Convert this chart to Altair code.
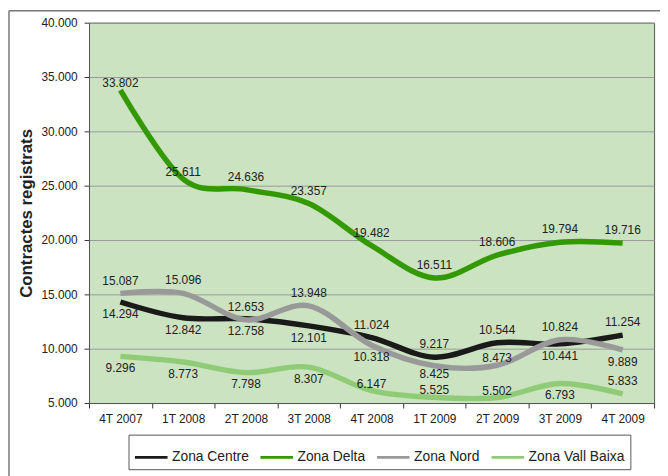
import altair as alt
import pandas as pd

periods = ["4T 2007", "1T 2008", "2T 2008", "3T 2008", "4T 2008",
           "1T 2009", "2T 2009", "3T 2009", "4T 2009"]
zones = ["Zona Centre", "Zona Delta", "Zona Nord", "Zona Vall Baixa"]

centre = [14294, 12842, 12758, 12101, 11024, 9217, 10544, 10441, 11254]
delta = [33802, 25611, 24636, 23357, 19482, 16511, 18606, 19794, 19716]
nord = [15087, 15096, 12653, 13948, 10318, 8425, 8473, 10824, 9889]
vall = [9296, 8773, 7798, 8307, 6147, 5525, 5502, 6793, 5833]

# where each value label sits relative to its point:
# a = above, b = below, n = above (close), m = below (close)
label_side = {
    "Zona Centre": "bbbbaaaba",
    "Zona Delta": "nnaaaaaaa",
    "Zona Nord": "aaaabmnab",
    "Zona Vall Baixa": "bbbbnnnba",
}
side_dy = {"a": -13, "b": 12, "n": -7, "m": 8}

colors = ["#1a1a1a", "#339900", "#999999", "#90cc78"]

rows = []
for zone, vals in zip(zones, [centre, delta, nord, vall]):
    for i, (p, v) in enumerate(zip(periods, vals)):
        rows.append({
            "period": p, "zone": zone, "value": v,
            "label": f"{v:,}".replace(",", "."),
            "side": label_side[zone][i],
        })
df = pd.DataFrame(rows)

FONT = "Liberation Sans"

x_enc = alt.X(
    "period:O", sort=periods, bandPosition=0.5,
    scale=alt.Scale(type="band", paddingInner=0, paddingOuter=0),
    axis=alt.Axis(title=None, labelAngle=0, tickBand="extent", tickSize=5,
                  labelPadding=6, labelFontSize=12, labelColor="#222222",
                  domainColor="#555555", tickColor="#333333", grid=False),
)
y_enc = alt.Y(
    "value:Q",
    scale=alt.Scale(domain=[5000, 40000], nice=False, zero=False),
    axis=alt.Axis(values=list(range(5000, 40001, 5000)),
                  labelExpr="replace(format(datum.value, ','), ',', '.')",
                  title="Contractes registrats", titleFontSize=17,
                  titleFontWeight="bold", titleColor="#222222", titlePadding=5,
                  labelFontSize=12, labelColor="#222222", labelPadding=7,
                  tickSize=5, tickColor="#333333", domainColor="#555555",
                  gridColor="#999999", gridWidth=1),
)

base = alt.Chart(df)

lines = base.mark_line(interpolate="cardinal", strokeWidth=5.5).encode(
    x=x_enc, y=y_enc,
    color=alt.Color("zone:N", scale=alt.Scale(domain=zones, range=colors),
                    title=None,
                    legend=alt.Legend(orient="none", legendX=40, legendY=417,
                                      direction="horizontal",
                                      symbolType="stroke", symbolSize=1089,
                                      symbolStrokeWidth=3, labelFontSize=14,
                                      labelColor="#222222", labelOffset=3,
                                      columnPadding=5, padding=5,
                                      strokeColor="#555555", fillColor="white")),
    order=alt.Order("zone:N"),
)

text_layers = []
for side, dy in side_dy.items():
    text_layers.append(
        base.transform_filter(f"datum.side == '{side}'").mark_text(
            dy=dy, fontSize=12, color="#222222", baseline="middle"
        ).encode(x=x_enc, y=y_enc, text="label:N")
    )

frame_df = pd.DataFrame({"k": [0]})
left_border = alt.Chart(frame_df).mark_rule(color="#777777", strokeWidth=1.5).encode(
    x=alt.value(-81), y=alt.value(-12), y2=alt.value(460))
top_border = alt.Chart(frame_df).mark_rule(color="#777777", strokeWidth=1.5).encode(
    x=alt.value(-81), x2=alt.value(580), y=alt.value(-12))

chart = alt.layer(left_border, top_border, lines, *text_layers).properties(
    width=572, height=385,
    autosize=alt.AutoSizeParams(type="none"),
    padding={"left": 82, "top": 12, "right": 6, "bottom": 71},
    background="white",
).configure(font=FONT).configure_view(
    fill="#cbe3c1", stroke="#555555", strokeWidth=1
)

chart.save("out.html", embed_options={"renderer": "svg", "actions": False})
